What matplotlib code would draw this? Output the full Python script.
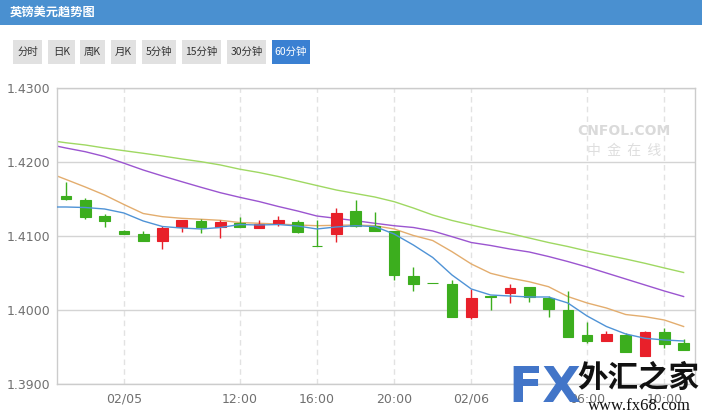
import numpy as np
import matplotlib
matplotlib.use("Agg")
import matplotlib.pyplot as plt
from matplotlib.patches import Rectangle

plt.rcParams['font.family'] = ['Noto Sans CJK SC', 'DejaVu Sans']

W, H = 702, 416

# ---- data (GBP/USD, 60 min candles) ----
opens = [1.41545, 1.41491, 1.41278, 1.41072, 1.41027, 1.40940, 1.41122, 1.41207, 1.41122, 1.41176,
         1.41108, 1.41184, 1.41189, 1.40875, 1.41027, 1.41342, 1.41143, 1.41071, 1.40463, 1.40375,
         1.40351, 1.39914, 1.40197, 1.40238, 1.40311, 1.40170, 1.40004, 1.39667, 1.39589, 1.39667,
         1.39386, 1.39711, 1.39554]
highs = [1.41738, 1.41518, 1.41297, 1.41085, 1.41076, 1.41139, 1.41220, 1.41238, 1.41220, 1.41257,
         1.41224, 1.41278, 1.41216, 1.41220, 1.41378, 1.41491, 1.41324, 1.41071, 1.40589, 1.40375,
         1.40409, 1.40284, 1.40197, 1.40355, 1.40311, 1.40193, 1.40265, 1.39846, 1.39720, 1.39689,
         1.39720, 1.39765, 1.39612]
lows = [1.41497, 1.41238, 1.41130, 1.41027, 1.40940, 1.40828, 1.41062, 1.41041, 1.40981, 1.41130,
        1.41108, 1.41139, 1.41049, 1.40873, 1.40919, 1.41122, 1.41076, 1.40409, 1.40265, 1.40373,
        1.39914, 1.39878, 1.40004, 1.40095, 1.40112, 1.39905, 1.39643, 1.39562, 1.39581, 1.39432,
        1.39386, 1.39495, 1.39464]
closes = [1.41508, 1.41265, 1.41211, 1.41027, 1.40940, 1.41108, 1.41220, 1.41122, 1.41197, 1.41130,
          1.41162, 1.41220, 1.41062, 1.40873, 1.41311, 1.41143, 1.41076, 1.40477, 1.40351, 1.40373,
          1.39914, 1.40162, 1.40184, 1.40305, 1.40184, 1.40014, 1.39643, 1.39589, 1.39680, 1.39432,
          1.39711, 1.39547, 1.39464]

# moving averages, first value is one bar before the first candle
ma5 = [1.41396, 1.41396, 1.41389, 1.41369, 1.41315, 1.41207, 1.41132, 1.41112, 1.41099, 1.41119,
       1.41159, 1.41153, 1.41159, 1.41139, 1.41099, 1.41126, 1.41143, 1.41132, 1.41031, 1.40882,
       1.40714, 1.40477, 1.40288, 1.40207, 1.40193, 1.40180, 1.40180, 1.40099, 1.39923, 1.39781,
       1.39680, 1.39622, 1.39599, 1.39585]
ma10 = [1.41869, 1.41768, 1.41666, 1.41558, 1.41430, 1.41308, 1.41265, 1.41243, 1.41230, 1.41216,
        1.41186, 1.41176, 1.41166, 1.41153, 1.41143, 1.41149, 1.41153, 1.41143, 1.41099, 1.41011,
        1.40943, 1.40792, 1.40626, 1.40500, 1.40436, 1.40386, 1.40319, 1.40186, 1.40099, 1.40031,
        1.39943, 1.39914, 1.39869, 1.39781]
ma20 = [1.42247, 1.42193, 1.42143, 1.42078, 1.41988, 1.41896, 1.41815, 1.41738, 1.41662, 1.41589,
        1.41527, 1.41470, 1.41403, 1.41342, 1.41274, 1.41243, 1.41211, 1.41176, 1.41143, 1.41119,
        1.41072, 1.40995, 1.40916, 1.40876, 1.40828, 1.40788, 1.40727, 1.40659, 1.40585, 1.40504,
        1.40423, 1.40342, 1.40261, 1.40186]
ma30 = [1.42301, 1.42264, 1.42234, 1.42193, 1.42157, 1.42122, 1.42085, 1.42045, 1.42008, 1.41964,
        1.41907, 1.41862, 1.41808, 1.41747, 1.41686, 1.41626, 1.41578, 1.41531, 1.41468, 1.41382,
        1.41288, 1.41214, 1.41153, 1.41092, 1.41038, 1.40977, 1.40916, 1.40862, 1.40801, 1.40747,
        1.40693, 1.40635, 1.40572, 1.40511]

xtick_idx = [3, 9, 13, 17, 21, 27, 31]
xtick_labels = ['02/05', '12:00', '16:00', '20:00', '02/06', '06:00', '10:00']
yticks = [1.39, 1.40, 1.41, 1.42, 1.43]

title = '英镑美元趋势图'
buttons = ['分时', '日K', '周K', '月K', '5分钟', '15分钟', '30分钟', '60分钟']
active_button = '60分钟'


def px(x0, y0, x1, y1):
    # pixel box (top-left origin) -> figure fraction rectangle
    return (x0 / W, 1 - y1 / H), (x1 - x0) / W, (y1 - y0) / H


fig = plt.figure(figsize=(W / 100, H / 100), dpi=100)
fig.patch.set_facecolor('white')

# header bar
xy, w, h = px(0, 0, W, 25)
fig.add_artist(Rectangle(xy, w, h, transform=fig.transFigure, color='#4a90d0', lw=0))
fig.text(10 / W, 1 - 12.5 / H, title, color='white', fontsize=8.8, fontweight='bold',
         va='center', ha='left')

# period buttons
btn_x = [(12.7, 42.3), (48.3, 75), (79.7, 105), (111, 136.3), (142.3, 176.3),
         (182.3, 221), (227, 265.7), (271.7, 310.3)]
for lab, (x0, x1) in zip(buttons, btn_x):
    on = lab == active_button
    xy, w, h = px(x0, 40, x1, 64)
    fig.add_artist(Rectangle(xy, w, h, transform=fig.transFigure, lw=0,
                             color='#3a80d2' if on else '#e1e1e1'))
    fig.text((x0 + x1) / 2 / W, 1 - 52 / H, lab, fontsize=7.5, ha='center', va='center',
             color='white' if on else '#333333')

# chart
ax = fig.add_axes([57 / W, 1 - 384.3 / H, (695 - 57) / W, (384.3 - 88.3) / H])
x = np.arange(len(opens))
xm = np.arange(-1, len(opens))

for spine in ax.spines.values():
    spine.set_color('#cccccc')
    spine.set_linewidth(1)

ax.set_ylim(1.39, 1.43)
ax.set_xlim(-0.466, 32.59)
ax.set_yticks(yticks)
ax.set_yticklabels(['%.4f' % v for v in yticks], family=['DejaVu Sans'], fontsize=9,
                   color='#707070')
ax.set_xticks(xtick_idx)
ax.set_xticklabels(xtick_labels, family=['DejaVu Sans'], fontsize=9, color='#707070')
ax.tick_params(axis='both', length=0)
ax.tick_params(axis='y', pad=5)
ax.tick_params(axis='x', pad=6)
ax.grid(axis='y', color='#d4d4d4', lw=1, ls='-')
ax.grid(axis='x', color='#e2e2e2', lw=1, ls=(0, (4, 3)))
ax.set_axisbelow(True)

ax.plot(xm, ma30, color='#9fd862', lw=1, zorder=2)
ax.plot(xm, ma20, color='#9b55d0', lw=1, zorder=2)
ax.plot(xm, ma10, color='#e3ad6e', lw=1, zorder=2)

up_c, dn_c = '#e8202a', '#3cae1e'
for i in range(len(opens)):
    o, hi, lo, c = opens[i], highs[i], lows[i], closes[i]
    col = up_c if c > o else dn_c
    ax.vlines(x[i], lo, hi, color=col, lw=1, zorder=3)
    ax.bar(x[i], max(abs(c - o), 0.00001), bottom=min(o, c), width=0.55, color=col,
           edgecolor=col, lw=0.8, zorder=4)

ax.plot(xm, ma5, color='#4f93d6', lw=1, zorder=5)

# watermark
fig.text(624 / W, 1 - 131 / H, 'CNFOL.COM', color='#dadada', fontsize=10, fontweight='bold',
         ha='center', va='center', family=['DejaVu Sans'])
fig.text(624 / W, 1 - 151 / H, '中  金  在  线', color='#dedede', fontsize=10,
         ha='center', va='center')

# FX logo (overlaps the last tick labels, as in the source)
fig.text(508 / W, 1 - 388 / H, 'FX', color='#4275c8', fontsize=36, fontweight='heavy',
         ha='left', va='center', family=['DejaVu Sans'])
fig.text(638 / W, 1 - 378 / H, '外汇之家', color='#111111', fontsize=22, fontweight='bold',
         ha='center', va='center')
fig.text(639 / W, 1 - 406 / H, 'www.fx68.com', color='#111111', fontsize=12,
         ha='center', va='center', family=['Liberation Serif'])

fig.savefig('out.png', dpi=100)
